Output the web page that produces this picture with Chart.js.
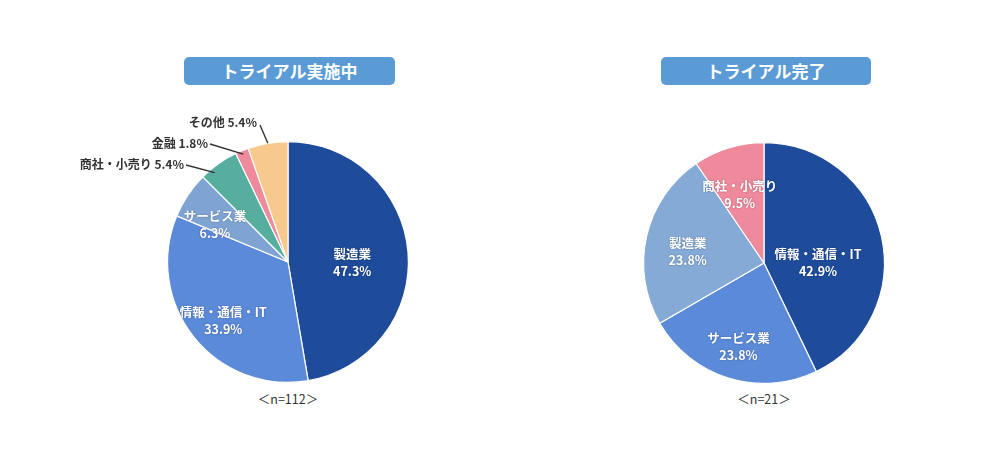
<!DOCTYPE html>
<html lang="ja">
<head>
<meta charset="utf-8">
<script src="https://cdn.jsdelivr.net/npm/chart.js@4"></script>
<style>
  html,body{margin:0;padding:0;background:#fff;}
  body{width:1000px;height:462px;position:relative;overflow:hidden;font-family:"Noto Sans CJK JP","Noto Sans",sans-serif;}
  .title{position:absolute;top:57px;height:28px;line-height:28px;background:#5B9BD5;border-radius:5px;color:#fff;font-weight:bold;font-size:17px;text-align:center;}
  .nlab{position:absolute;top:390px;width:200px;text-align:center;font-size:12.5px;color:#333;line-height:18px;}
  .wrap{position:absolute;height:400px;}
</style>
</head>
<body>
<div class="title" style="left:184px;width:211px;">トライアル実施中</div>
<div class="title" style="left:661px;width:210px;">トライアル完了</div>
<div class="nlab" style="left:188px;">＜n=112＞</div>
<div class="nlab" style="left:664px;">＜n=21＞</div>
<div class="wrap" style="left:0px;top:62px;width:576px;"><canvas id="c1" width="576" height="400"></canvas></div>
<div class="wrap" style="left:564px;top:63px;width:400px;"><canvas id="c2" width="400" height="400"></canvas></div>
<script>
// ---- data ----
const leftCategories = ["製造業", "情報・通信・IT", "サービス業", "商社・小売り", "金融", "その他"];
const leftCounts = [53, 38, 7, 6, 2, 6];           // n=112
const leftColors = ["#1E4C9A", "#5B8AD8", "#7FA4D3", "#55AE9E", "#EE8A9B", "#F8C98D"];

const rightCategories = ["情報・通信・IT", "サービス業", "製造業", "商社・小売り"];
const rightCounts = [9, 5, 5, 2];                  // n=21
const rightColors = ["#1E4C9A", "#5B8AD8", "#85AAD6", "#EE8A9B"];

// label placement styles (not data)
const leftLabelStyle = [
  {type:"in", r:0.535, dx:0, dy:6},
  {type:"in", r:0.73, dx:4, dy:3},
  {type:"in", r:0.68, dx:-5, dy:8},
  {type:"out", r:0.96, da:-4, tx:-104, ty:-98, lx:2, ly:1},
  {type:"out", r:0.97, da:0, tx:-80, ty:-119, lx:2, ly:1},
  {type:"out", r:1.0, da:0, tx:-31, ty:-140, lx:3, ly:3}
];
const rightLabelStyle = [
  {type:"in", r:0.46, dx:0, dy:12},
  {type:"in", r:0.72, dx:0, dy:0},
  {type:"in", r:0.65, dx:0, dy:6},
  {type:"in", r:0.6, dx:-3, dy:0}
];

const sliceLabels = {
  id: "sliceLabels",
  afterDatasetsDraw(chart, args, opts) {
    const ctx = chart.ctx;
    const meta = chart.getDatasetMeta(0);
    const vals = chart.data.datasets[0].data;
    const total = vals.reduce((a,b)=>a+b,0);
    const names = chart.data.labels;
    const font = 'bold 12.5px "Noto Sans CJK JP","Noto Sans",sans-serif';
    meta.data.forEach((arc, i) => {
      const p = arc.getProps(["x","y","startAngle","endAngle","outerRadius"], true);
      const mid = (p.startAngle + p.endAngle) / 2;
      const st = opts.styles[i];
      const pct = (vals[i] / total * 100).toFixed(1) + "%";
      ctx.save();
      ctx.font = font;
      if (st.type === "in") {
        const cx = p.x + Math.cos(mid) * p.outerRadius * st.r + st.dx;
        const cy = p.y + Math.sin(mid) * p.outerRadius * st.r + st.dy;
        ctx.textAlign = "center";
        ctx.textBaseline = "middle";
        ctx.fillStyle = "#fff";
        ctx.shadowColor = "rgba(0,0,0,0.35)";
        ctx.shadowBlur = 2;
        ctx.fillText(names[i], cx, cy - 8);
        ctx.fillText(pct, cx, cy + 9);
      } else {
        const a = mid + (st.da || 0) * Math.PI / 180;
        const ex = p.x + Math.cos(a) * p.outerRadius * st.r;
        const ey = p.y + Math.sin(a) * p.outerRadius * st.r;
        const tx = p.x + st.tx, ty = p.y + st.ty;
        ctx.strokeStyle = "#333";
        ctx.lineWidth = 1.4;
        ctx.beginPath();
        ctx.moveTo(tx + st.lx, ty + st.ly);
        ctx.lineTo(ex, ey);
        ctx.stroke();
        ctx.font = 'bold 12px "Noto Sans CJK JP","Noto Sans",sans-serif';
        ctx.textAlign = "right";
        ctx.textBaseline = "middle";
        ctx.fillStyle = "#333";
        ctx.fillText(names[i] + " " + pct, tx, ty);
      }
      ctx.restore();
    });
  }
};

function makePie(id, labels, data, colors, styles, padding) {
  return new Chart(document.getElementById(id), {
    type: "pie",
    data: { labels: labels, datasets: [{ data: data, backgroundColor: colors, borderColor: "#fff", borderWidth: 1.2 }] },
    options: {
      responsive: false,
      animation: false,
      layout: { padding: padding },
      plugins: { legend: { display: false }, tooltip: { enabled: false }, sliceLabels: { styles: styles } }
    },
    plugins: [sliceLabels]
  });
}
makePie("c1", leftCategories, leftCounts, leftColors, leftLabelStyle, {left:167, right:167, top:79, bottom:79});
makePie("c2", rightCategories, rightCounts, rightColors, rightLabelStyle, 79);
</script>
</body>
</html>
